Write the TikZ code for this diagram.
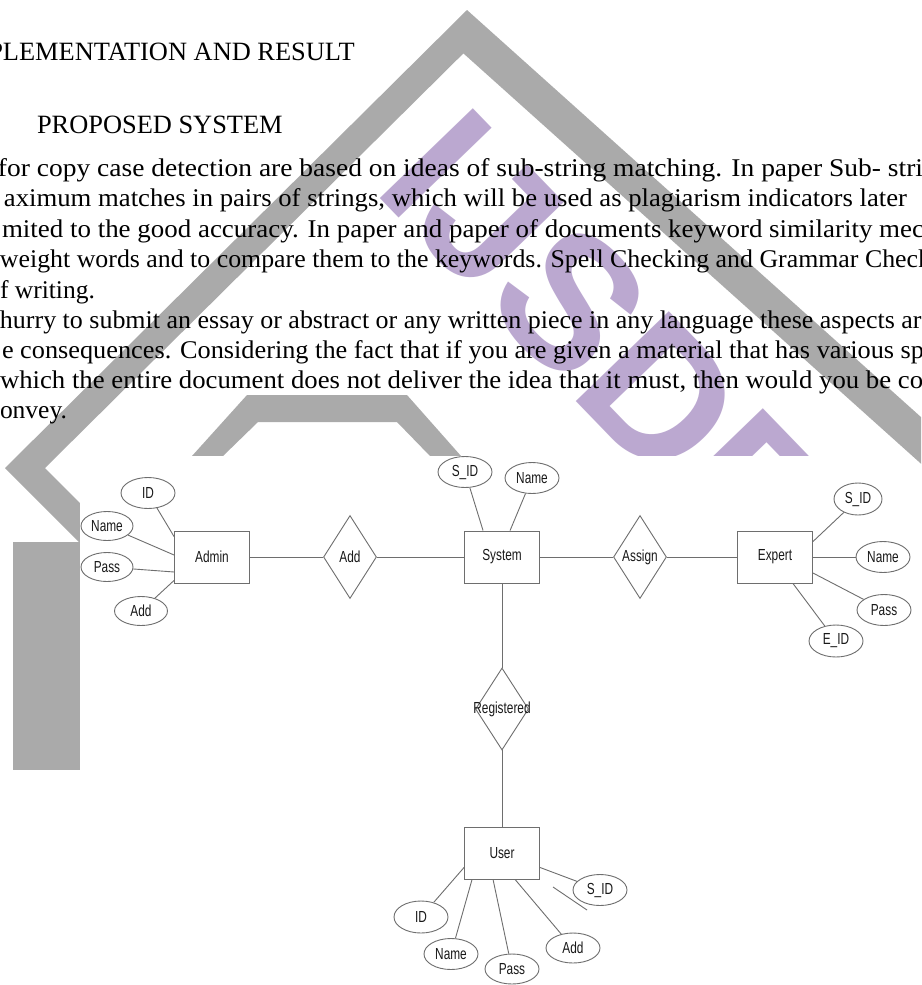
\documentclass[tikz,border=0pt]{standalone}
\usepackage{fontspec}
\setmainfont{Liberation Serif}
\newfontfamily\erfont[FakeStretch=0.74]{Liberation Sans}
\newfontfamily\markfont{Liberation Sans}
\usetikzlibrary{shapes.geometric,calc}

\definecolor{roofgray}{RGB}{170,170,170}
\definecolor{markpurple}{RGB}{187,168,208}
\definecolor{erline}{RGB}{110,110,110}

% set a line of running text, stretched or squeezed to a given width (pt)
\newsavebox\linebox
\newcommand\fitline[2]{\sbox\linebox{#2}\pgfmathsetmacro\fitratio{#1/\wd\linebox}\scalebox{\fitratio}[1]{\usebox\linebox}}

\tikzset{
  txt/.style={anchor=base west, inner sep=0pt, outer sep=0pt, font=\fontsize{25.5}{30}\selectfont},
  head/.style={anchor=base west, inner sep=0pt, outer sep=0pt, font=\fontsize{26.4}{30}\selectfont},
  logotext/.style={anchor=base west, inner sep=0pt, rotate=-46, text=markpurple,
    font=\markfont\bfseries\fontsize{188}{188}\selectfont},
  erlab/.style={inner sep=0pt, text=black!90, font=\erfont\fontsize{16}{18}\selectfont},
  entity/.style={draw=erline, line width=0.9pt, minimum width=75pt, minimum height=52pt, erlab},
  attr/.style={draw=erline, line width=0.9pt, ellipse, minimum width=54pt, minimum height=31pt, erlab},
  rel/.style={draw=erline, line width=0.9pt, diamond, minimum width=53pt, minimum height=83pt, inner sep=0pt},
  erl/.style={draw=erline, line width=0.9pt},
}

\begin{document}
\begin{tikzpicture}[x=1pt,y=-1pt]
\useasboundingbox (0,0) rectangle (921,985);
\clip (0,0) rectangle (921,985);
\fill[white] (0,0) rectangle (921,985);

% watermark: roof band with its chevron, wall, inner gable
\fill[roofgray] (80,543) -- (5,468) -- (467,10) -- (1125,600) -- (1073,600)
  -- (463.4,53.4) -- (45,468) -- (80,503) -- cycle;
\fill[roofgray] (13,542) rectangle (80,770);
\fill[roofgray] (192,456) -- (247,395) -- (407,395) -- (461,456) -- (430,456)
  -- (397,422) -- (258,422) -- (223,456) -- cycle;
\node[logotext] (logo) at (371,189) {IJSDR};

% white ground of the ER figure
\fill[white] (80,456) rectangle (911,985);

% headings and running text
\node[head] (h1) at (-11.7,60) {PLEMENTATION AND RESULT};
\node[head] (h2) at (37,133) {PROPOSED SYSTEM};
\node[txt] (p1) at (-2,176.5) {\fitline{925}{for copy case detection are based on ideas of sub-string matching. In paper Sub- stri}};
\node[txt] (p2) at (4,206.5) {\fitline{903}{aximum matches in pairs of strings, which will be used as plagiarism indicators later}};
\node[txt] (p3) at (2,237) {\fitline{922}{mited to the good accuracy. In paper and paper of documents keyword similarity mec}};
\node[txt] (p4) at (0,267) {\fitline{931}{weight words and to compare them to the keywords. Spell Checking and Grammar Check}};
\node[txt] (p5) at (0,298) {f writing.};
\node[txt] (p6) at (0,328) {\fitline{933}{hurry to submit an essay or abstract or any written piece in any language these aspects are}};
\node[txt] (p7) at (2,358) {\fitline{922}{e consequences. Considering the fact that if you are given a material that has various sp}};
\node[txt] (p8) at (0,388.5) {\fitline{923}{which the entire document does not deliver the idea that it must, then would you be co}};
\node[txt] (p9) at (0,418) {onvey.};

% ER diagram: entities and relationships
\node[entity] (admin) at (212,557) {Admin};
\node[rel, label={[name=addlab, erlab]center:Add}] (addrel) at (350,557) {};
\node[entity] (system) at (502,557) {System};
\node[rel, label={[name=assignlab, erlab]center:Assign}] (assign) at (640,557) {};
\node[entity] (expert) at (775,557) {Expert};
\node[rel, minimum height=82pt, label={[name=reglab, erlab]center:Registered}] (registered) at (502,709) {};
\node[entity] (user) at (502,853) {User};

% attributes
\node[attr] (aID) at (148,493) {ID};
\node[attr, minimum width=52pt, minimum height=29pt] (aName) at (107,526) {Name};
\node[attr, minimum width=52pt, minimum height=29pt] (aPass) at (107,567) {Pass};
\node[attr, minimum width=53pt, minimum height=29pt] (aAdd) at (141,611) {Add};
\node[attr] (sSID) at (465,472) {S\_ID};
\node[attr] (sName) at (532,478) {Name};
\node[attr, minimum width=48pt, minimum height=32pt] (eSID) at (858,499) {S\_ID};
\node[attr] (eName) at (883,557) {Name};
\node[attr] (ePass) at (884,610) {Pass};
\node[attr, minimum height=32pt] (eEID) at (836,641) {E\_ID};
\node[attr, minimum height=32pt] (uID) at (421,917) {ID};
\node[attr] (uName) at (451,954) {Name};
\node[attr, minimum height=30pt] (uPass) at (512,969) {Pass};
\node[attr, minimum height=30pt] (uAdd) at (573,948) {Add};
\node[attr] (uSID) at (600,890) {S\_ID};
\coordinate (strayA) at (553,887);
\coordinate (strayB) at (587,910);

% relationship lines
\draw[erl] (admin.east) -- (addrel.west);
\draw[erl] (addrel.east) -- (system.west);
\draw[erl] (system.east) -- (assign.west);
\draw[erl] (assign.east) -- (expert.west);
\draw[erl] (system.south) -- (registered.north);
\draw[erl] (registered.south) -- (user.north);

% attribute lines
\draw[erl] (aID) -- ($(admin.north west)+(0,6)$);
\draw[erl] (aName) -- ($(admin.west)+(0,-2)$);
\draw[erl] (aPass) -- ($(admin.west)+(0,15)$);
\draw[erl] (aAdd) -- ($(admin.south west)+(0,-3)$);
\draw[erl] (sSID) -- ($(system.north west)+(19,0)$);
\draw[erl] (sName) -- ($(system.north west)+(46,0)$);
\draw[erl] (eSID) -- ($(expert.north east)+(0,11)$);
\draw[erl] (eName) -- (expert.east);
\draw[erl] (ePass) -- ($(expert.east)+(0,16)$);
\draw[erl] (eEID) -- ($(expert.south east)+(-20,0)$);
\draw[erl] (uID) -- ($(user.south west)+(0,-12)$);
\draw[erl] (uName) -- ($(user.south west)+(8,0)$);
\draw[erl] (uPass) -- ($(user.south west)+(29,0)$);
\draw[erl] (uAdd) -- ($(user.south west)+(51,0)$);
\draw[erl] (uSID) -- ($(user.south east)+(0,-12)$);
\draw[erl] (strayA) -- (strayB);
\end{tikzpicture}
\end{document}
